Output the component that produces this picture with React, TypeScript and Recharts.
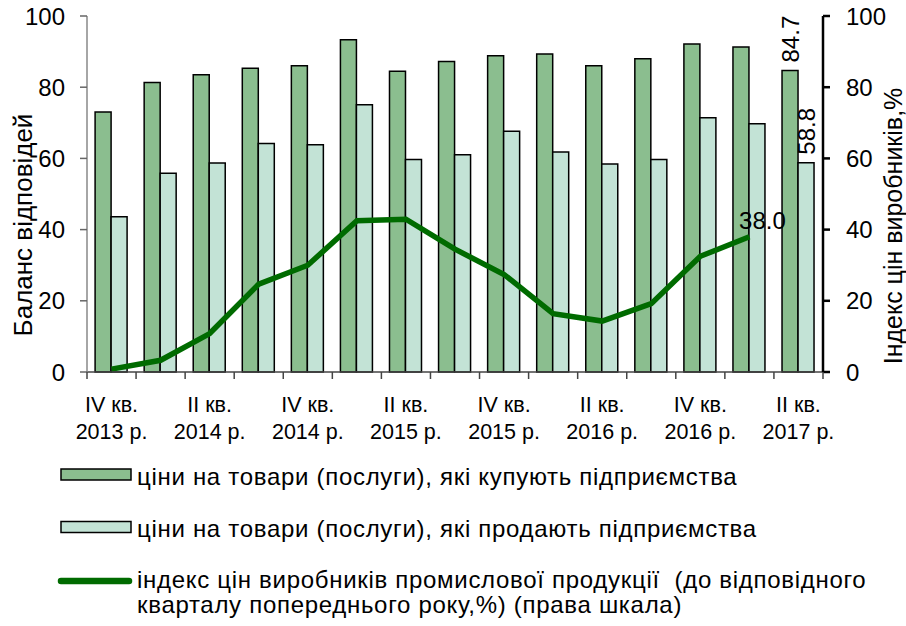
import { ComposedChart, Bar, Line, XAxis, YAxis, LabelList } from "recharts";

// Квартали та роки (підписи осі X)
const quarters = ["IV кв.", "I кв.", "II кв.", "III кв.", "IV кв.", "I кв.", "II кв.", "III кв.", "IV кв.", "I кв.", "II кв.", "III кв.", "IV кв.", "I кв.", "II кв."];
const years = ["2013 р.", "2014 р.", "2014 р.", "2014 р.", "2014 р.", "2015 р.", "2015 р.", "2015 р.", "2015 р.", "2016 р.", "2016 р.", "2016 р.", "2016 р.", "2017 р.", "2017 р."];

// Баланс відповідей
const buyPrices = [73.0, 81.3, 83.5, 85.3, 86.0, 93.3, 84.5, 87.2, 88.8, 89.3, 86.0, 88.0, 92.1, 91.3, 84.7];
const sellPrices = [43.6, 55.8, 58.7, 64.2, 63.8, 75.1, 59.7, 61.0, 67.6, 61.8, 58.4, 59.7, 71.4, 69.7, 58.8];
// Індекс цін виробників (права шкала)
const ppi = [0.8, 3.3, 10.8, 24.7, 30.0, 42.5, 42.9, 34.5, 27.4, 16.4, 14.3, 19.2, 32.5, 38.0, null];

const yTicks = [0, 20, 40, 60, 80, 100];

const data = quarters.map((q, i) => ({
  name: `${q}|${years[i]}`,
  buy: buyPrices[i],
  sell: sellPrices[i],
  ppi: ppi[i],
}));

const FONT = "'Liberation Sans', Arial, sans-serif";
const DARK = "#8bbe8f";
const LIGHT = "#c3e3d6";
const LINE = "#006b00";
const PLOT_W = 736;
const BAND = PLOT_W / quarters.length;

function XTick(props: any) {
  const { x, y, index, payload } = props;
  const [q, yr] = String(payload.value).split("|");
  const left = x - BAND / 2;
  return (
    <g>
      <line x1={left} x2={left} y1={y} y2={y + 7} stroke="#444" strokeWidth={1.5} />
      {index === quarters.length - 1 && (
        <line x1={x + BAND / 2} x2={x + BAND / 2} y1={y} y2={y + 7} stroke="#444" strokeWidth={1.5} />
      )}
      {index % 2 === 0 && (
        <text x={x} y={y} textAnchor="middle" fontFamily={FONT} fontSize={21.5} fill="#000">
          <tspan x={x} dy={40}>{q}</tspan>
          <tspan x={x} dy={26.5}>{yr}</tspan>
        </text>
      )}
    </g>
  );
}

// Вертикальний підпис над останнім стовпчиком
const barLabel = (props: any) => {
  const { x, y, width, value, index } = props;
  if (index !== quarters.length - 1) return null;
  const cx = x + width / 2;
  const cy = y - 8;
  return (
    <text x={cx} y={cy} transform={`rotate(-90 ${cx} ${cy})`} textAnchor="start" dominantBaseline="central" fontFamily={FONT} fontSize={24} fill="#000">
      {Number(value).toFixed(1)}
    </text>
  );
};

const lineLabel = (props: any) => {
  const { x, y, value, index } = props;
  if (index !== 13 || value == null) return null;
  return (
    <text x={x + 13} y={y - 8} textAnchor="middle" fontFamily={FONT} fontSize={24} fill="#000">
      {Number(value).toFixed(1)}
    </text>
  );
};

const legendItems = [
  { kind: "bar", color: DARK, lines: ["ціни на товари (послуги), які купують підприємства"], baseline: 484.5 },
  { kind: "bar", color: LIGHT, lines: ["ціни на товари (послуги), які продають підприємства"], baseline: 537 },
  { kind: "line", color: LINE, lines: ["індекс цін виробників промислової продукції  (до відповідного", "кварталу попереднього року,%) (права шкала)"], baseline: 588 },
];

function LegendBlock() {
  return (
    <svg width={906} height={626} style={{ position: "absolute", left: 0, top: 0, pointerEvents: "none" }}>
      {legendItems.map((item, i) => (
        <g key={i}>
          {item.kind === "bar" ? (
            <rect x={61} y={item.baseline - 15.5} width={70} height={11} fill={item.color} stroke="#000" strokeWidth={1.5} />
          ) : (
            <line x1={61} x2={129} y1={item.baseline - 7} y2={item.baseline - 7} stroke={item.color} strokeWidth={6.5} strokeLinecap="round" />
          )}
          {item.lines.map((t, j) => (
            <text key={j} x={137} y={item.baseline + j * 25} fontFamily={FONT} fontSize={24} letterSpacing={0.7} fill="#000" style={{ whiteSpace: "pre" }}>
              {t}
            </text>
          ))}
        </g>
      ))}
    </svg>
  );
}

export default function App() {
  return (
    <div style={{ position: "absolute", left: 0, top: 0, width: 906, height: 626, background: "#fff", fontFamily: FONT }}>
      <ComposedChart width={906} height={626} data={data} margin={{ top: 16, right: 0, left: 0, bottom: 0 }} barCategoryGap="16.5%" barGap={0}>
        <XAxis
          dataKey="name"
          interval={0}
          height={254}
          tickLine={false}
          tickSize={0}
          tickMargin={0}
          axisLine={{ stroke: "#444", strokeWidth: 1.5 }}
          tick={<XTick />}
        />
        <YAxis
          yAxisId="left"
          width={87}
          domain={[0, 100]}
          ticks={yTicks}
          tickSize={7}
          tickMargin={15}
          axisLine={{ stroke: "#888", strokeWidth: 1.5 }}
          tickLine={{ stroke: "#666", strokeWidth: 1.5 }}
          tick={{ fill: "#000", fontSize: 24, fontFamily: FONT }}
          label={() => (
            <text x={23} y={225} transform="rotate(-90 23 225)" textAnchor="middle" dominantBaseline="central" fontFamily={FONT} fontSize={26} fill="#000">
              Баланс відповідей
            </text>
          )}
        />
        <YAxis
          yAxisId="right"
          orientation="right"
          width={83}
          domain={[0, 100]}
          ticks={yTicks}
          tickSize={7}
          tickMargin={16}
          axisLine={{ stroke: "#000", strokeWidth: 2.5 }}
          tickLine={{ stroke: "#000", strokeWidth: 2.5 }}
          tick={{ fill: "#000", fontSize: 24, fontFamily: FONT, textAnchor: "start" }}
          label={() => (
            <text x={893} y={226} transform="rotate(-90 893 226)" textAnchor="middle" dominantBaseline="central" fontFamily={FONT} fontSize={25} fill="#000">
              Індекс цін виробників,%
            </text>
          )}
        />
        <Bar yAxisId="left" dataKey="buy" fill={DARK} stroke="#000" strokeWidth={1.5} isAnimationActive={false}>
          <LabelList dataKey="buy" content={barLabel} />
        </Bar>
        <Bar yAxisId="left" dataKey="sell" fill={LIGHT} stroke="#000" strokeWidth={1.5} isAnimationActive={false}>
          <LabelList dataKey="sell" content={barLabel} />
        </Bar>
        <Line yAxisId="right" dataKey="ppi" type="linear" stroke={LINE} strokeWidth={5.5} dot={false} activeDot={false} connectNulls={false} isAnimationActive={false}>
          <LabelList dataKey="ppi" content={lineLabel} />
        </Line>
      </ComposedChart>
      <LegendBlock />
    </div>
  );
}
